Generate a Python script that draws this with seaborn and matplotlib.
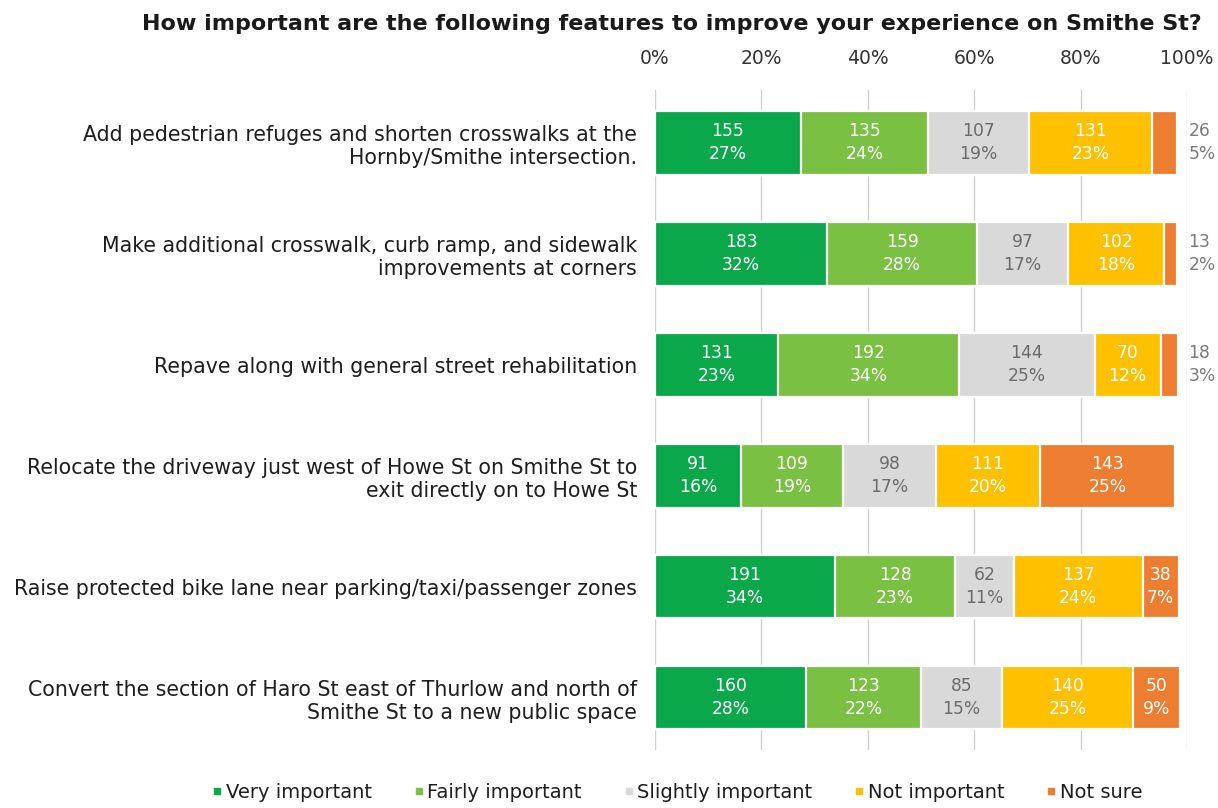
import numpy as np
import pandas as pd
import matplotlib
matplotlib.use("Agg")
import matplotlib.pyplot as plt
from matplotlib.lines import Line2D
import seaborn as sns

# Survey responses per feature (counts), ordered top to bottom
features = [
    "Add pedestrian refuges and shorten crosswalks at the\nHornby/Smithe intersection.",
    "Make additional crosswalk, curb ramp, and sidewalk\nimprovements at corners",
    "Repave along with general street rehabilitation",
    "Relocate the driveway just west of Howe St on Smithe St to\nexit directly on to Howe St",
    "Raise protected bike lane near parking/taxi/passenger zones",
    "Convert the section of Haro St east of Thurlow and north of\nSmithe St to a new public space",
]
levels = ["Very important", "Fairly important", "Slightly important",
          "Not important", "Not sure"]
very_important = [155, 183, 131, 91, 191, 160]
fairly_important = [135, 159, 192, 109, 128, 123]
slightly_important = [107, 97, 144, 98, 62, 85]
not_important = [131, 102, 70, 111, 137, 140]
not_sure = [26, 13, 18, 143, 38, 50]
total_respondents = 565
tick_values = [0, 20, 40, 60, 80, 100]

colors = ["#0aa84a", "#7ac143", "#d9d9d9", "#ffc000", "#ed7d31"]
text_colors = ["white", "white", "#6b6b6b", "white", "white"]

counts = np.array([very_important, fairly_important, slightly_important,
                   not_important, not_sure], dtype=float)
shares = counts / total_respondents * 100
cum = np.cumsum(shares, axis=0)

sns.set_theme(style="white")
plt.rcParams["font.family"] = ["DejaVu Sans"]

fig = plt.figure(figsize=(12.18, 8.08), dpi=100)
ax = fig.add_axes([655 / 1218, 1 - 750 / 808, (1187 - 655) / 1218, (750 - 90) / 808])

# Stacked bars: draw cumulative totals from the outermost segment inwards
for i in reversed(range(len(levels))):
    df = pd.DataFrame({"feature": features, "value": cum[i]})
    sns.barplot(data=df, x="value", y="feature", color=colors[i], orient="h",
                width=0.57, edgecolor="white", linewidth=1.6, saturation=1,
                ax=ax, zorder=2)

# Segment labels: count and rounded share; thin segments get labels past 100%
for r in range(len(features)):
    for i in range(len(levels)):
        start = cum[i, r] - shares[i, r]
        label = f"{int(counts[i, r])}\n{shares[i, r]:.0f}%"
        if shares[i, r] < 6:
            ax.text(100.3, r, label, ha="left", va="center",
                    fontsize=12.3, color="#7a7a7a", linespacing=1.35, zorder=3)
        else:
            ax.text(start + shares[i, r] / 2, r, label, ha="center", va="center",
                    fontsize=12.3, color=text_colors[i], linespacing=1.35, zorder=3)

ax.set_xlim(0, 100)
ax.set_ylim(5.47, -0.477)
ax.set_xticks(tick_values)
ax.set_xticklabels([f"{v}%" for v in tick_values])
ax.xaxis.tick_top()
ax.tick_params(axis="x", length=0, pad=16, labelsize=13.5, colors="#333333")
ax.tick_params(axis="y", length=0, pad=13, labelsize=14.8, colors="#1e1e1e")
ax.set_xlabel("")
ax.set_ylabel("")
ax.grid(axis="x", color="#d0d0d0", linewidth=1, zorder=0)
ax.grid(axis="y", visible=False)
ax.set_axisbelow(True)
for s in ax.spines.values():
    s.set_visible(False)

fig.text(0.5515, 0.970,
         "How important are the following features to improve your experience on Smithe St?",
         ha="center", va="center", fontsize=16, fontweight="bold", color="#1a1a1a")

handles = [Line2D([0], [0], marker="s", linestyle="", markersize=4.5,
                  markerfacecolor=c, markeredgecolor=c) for c in colors]
fig.legend(handles, levels, loc="center", bbox_to_anchor=(0.555, 0.019), ncol=5,
           frameon=False, fontsize=14, handletextpad=0.05, columnspacing=2.0,
           handlelength=0.8, labelcolor="#1e1e1e")

fig.savefig("out.png", dpi=100)
